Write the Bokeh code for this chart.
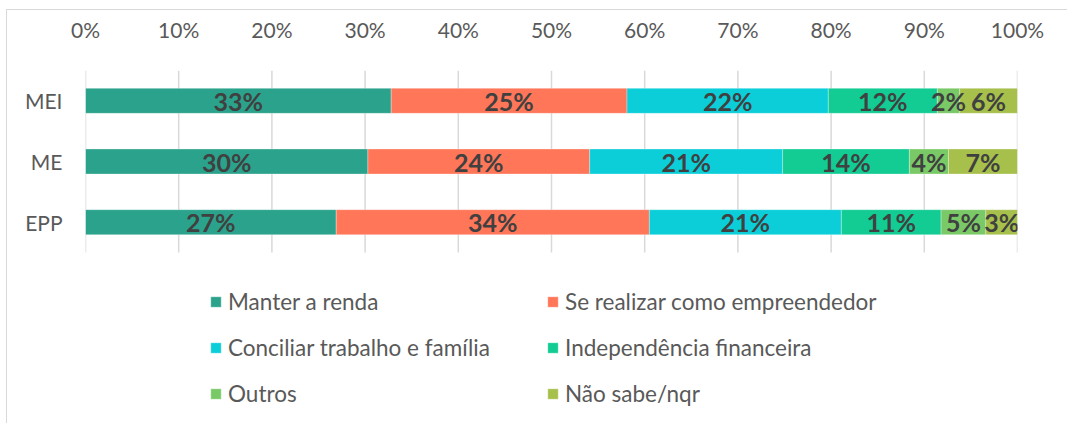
from bokeh.plotting import figure
from bokeh.models import (ColumnDataSource, Legend, LegendItem, FixedTicker,
                          PrintfTickFormatter, Label, Range1d)
from bokeh.core.properties import value
from bokeh.embed import file_html
from bokeh.resources import INLINE

# ---------------- data ----------------
categories = ["MEI", "ME", "EPP"]
series_names = ["Manter a renda", "Se realizar como empreendedor",
                "Conciliar trabalho e família", "Independência financeira",
                "Outros", "Não sabe/nqr"]
manter = [32.8, 30.3, 26.9]
realizar = [25.3, 23.8, 33.6]
conciliar = [21.6, 20.7, 20.6]
independencia = [11.7, 13.6, 10.7]
outros = [2.4, 4.2, 4.8]
nao_sabe = [6.2, 7.4, 3.4]
x_ticks = [0, 10, 20, 30, 40, 50, 60, 70, 80, 90, 100]
title_text = "Objetivo - Resultados por porte"

colors = ["#2BA38C", "#FF7659", "#0BCED9", "#12CC93", "#7AC967", "#A6C04B"]
series = [manter, realizar, conciliar, independencia, outros, nao_sabe]

FONT = "Lato"
W, H = 1067, 423
n = len(categories)
ypos = [n - i for i in range(n)]          # MEI top

top_y = n + 0.5
frame_h = H - 70
unit = 182.0 / n
bottom_y = top_y - frame_h / unit

p = figure(width=W, height=H, output_backend="svg", toolbar_location=None,
           x_range=Range1d(0, 100), y_range=Range1d(bottom_y, top_y),
           x_axis_location="above", min_border_left=85, min_border_right=50,
           min_border_top=70, min_border_bottom=0)
p.border_fill_color = None
p.background_fill_color = None
p.outline_line_color = None
p.styles = {
    "background": ("linear-gradient(#d9d9d9,#d9d9d9) 6px 9px / 1061px 1px no-repeat, "
                   "linear-gradient(#d9d9d9,#d9d9d9) 6px 9px / 1px 414px no-repeat, white")
}

p.xgrid.visible = False
p.ygrid.visible = False

# grid lines limited to the bar area
p.segment(x0=x_ticks, x1=x_ticks, y0=[0.5] * len(x_ticks), y1=[top_y] * len(x_ticks),
          line_color="#D9D9D9", line_width=1.5)

# x axis
xa = p.xaxis[0]
xa.ticker = FixedTicker(ticks=x_ticks)
xa.formatter = PrintfTickFormatter(format="%d%%")
xa.axis_line_color = None
xa.major_tick_line_color = None
xa.minor_tick_line_color = None
xa.major_label_text_font = FONT
xa.major_label_text_font_size = "21px"
xa.major_label_text_color = "#595959"
xa.major_label_standoff = 23

# y axis
ya = p.yaxis[0]
ya.ticker = FixedTicker(ticks=ypos)
ya.major_label_overrides = {y: c for y, c in zip(ypos, categories)}
ya.axis_line_color = None
ya.major_tick_line_color = None
ya.minor_tick_line_color = None
ya.major_label_text_font = FONT
ya.major_label_text_font_size = "21px"
ya.major_label_text_color = "#595959"
ya.major_label_standoff = 17

# stacked bars
left = [0.0] * n
renderers = []
lx, ly, lt = [], [], []
for vals, col in zip(series, colors):
    right = [a + b for a, b in zip(left, vals)]
    src = ColumnDataSource(dict(y=ypos, left=left, right=right))
    r = p.hbar(y="y", left="left", right="right", height=25 / unit, source=src,
               fill_color=col, line_color="white", line_width=0.6, line_alpha=0.5)
    renderers.append(r)
    for yy, a, v in zip(ypos, left, vals):
        lx.append(a + v / 2)
        ly.append(yy)
        lt.append(f"{round(v)}%")
    left = right

p.text(x=lx, y=ly, text=lt, text_font=value(FONT), text_font_style="bold",
       text_font_size="25px", text_color="#404040", text_align="center",
       text_baseline="middle")

# legend: 2 columns filled row by row
items = [LegendItem(label=nm, renderers=[r]) for nm, r in zip(series_names, renderers)]
ordered = items[0::2] + items[1::2]
legend = Legend(items=ordered,
                ncols=2, location=(124, 16), padding=0, margin=0,
                border_line_color=None, background_fill_alpha=0,
                glyph_width=13, glyph_height=13, label_standoff=6,
                label_height=28, spacing=18, label_width=300,
                label_text_font=FONT, label_text_font_size="22.5px",
                label_text_color="#595959")
p.add_layout(legend, "center")

# title (clipped by the top edge, as in the original)
p.add_layout(Label(x=455, y=419, x_units="screen", y_units="screen", text=title_text,
                   text_font=FONT, text_font_style="bold italic", text_font_size="24px",
                   text_color="black", text_align="center", text_baseline="alphabetic"))

open("out.html", "w").write(file_html(p, INLINE))
